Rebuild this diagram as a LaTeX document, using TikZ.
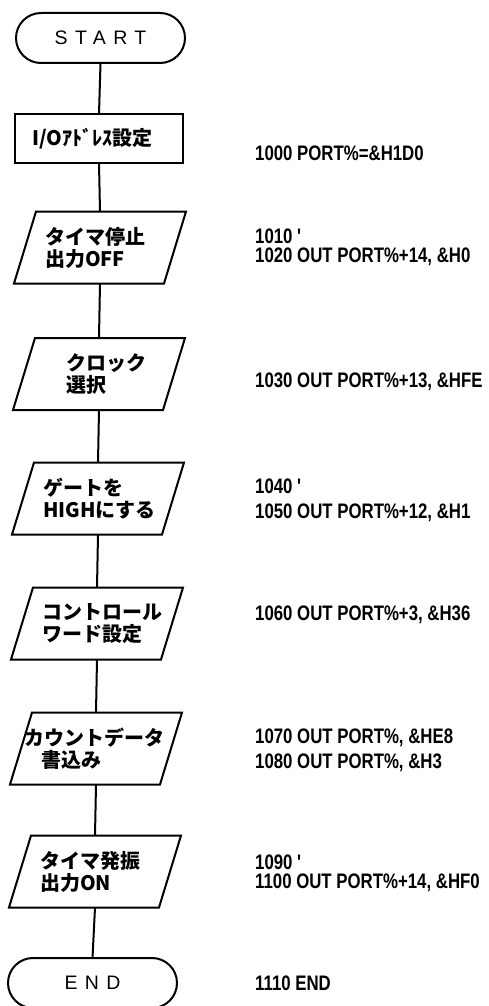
\documentclass[tikz,border=0pt]{standalone}
\usepackage{fontspec}
\setmainfont{Liberation Sans}
\newfontfamily\jpfont{Noto Sans CJK JP}
\newfontfamily\codefont[FakeStretch=0.8]{Liberation Sans}
\newfontfamily\termfont[LetterSpace=38]{Liberation Sans}
\usetikzlibrary{shapes.misc}
\tikzset{
  conn/.style={line width=2pt},
  terminal/.style={rounded rectangle, draw, line width=2pt, minimum width=169pt,
    minimum height=50pt, inner sep=0pt, outer sep=0pt,
    font=\termfont\fontsize{19.5}{19.5}\selectfont},
  procbox/.style={rectangle, draw, line width=2pt, minimum width=168pt,
    minimum height=49pt, outer sep=0pt, inner xsep=17pt, text width=134pt, align=left,
    font=\jpfont\bfseries\fontsize{20}{22}\selectfont},
  iobox/.style={rectangle, minimum width=150pt, minimum height=72pt, outer sep=0pt,
    inner xsep=20pt, text width=110pt, align=left,
    font=\jpfont\bfseries\fontsize{20}{22}\selectfont},
  codetext/.style={anchor=west, inner sep=0pt,
    font=\codefont\bfseries\fontsize{21}{21}\selectfont},
}
\begin{document}
\begin{tikzpicture}[x=1pt,y=-1pt]
\useasboundingbox (0,0) rectangle (488,1006);
\node[terminal] (start) at (100.5,38) {START};
\node[procbox] (io) at (99,138.5) {I/Oｱﾄﾞﾚｽ設定};
\node[iobox] (p1) at (100,247.5) {タイマ停止\\出力OFF};
\node[iobox] (p2) at (99,374) {\hspace*{22pt}クロック\\\hspace*{22pt}選択};
\node[iobox] (p3) at (98,498.5) {ゲートを\\HIGHにする};
\node[iobox] (p4) at (97,623.5) {コントロール\\ワード設定};
\node[iobox] (p5) at (96,748.5) {\hspace*{-17pt}カウントデータ\\書込み};
\node[iobox] (p6) at (95,871.5) {タイマ発振\\出力ON};
\node[terminal] (end) at (92.5,983) {END};
\foreach \n in {p1,p2,p3,p4,p5,p6}
  \draw[conn, line join=miter] ([xshift=11pt]\n.north west) -- ([xshift=11pt]\n.north east)
     -- ([xshift=-11pt]\n.south east) -- ([xshift=-11pt]\n.south west) -- cycle;
\draw[conn] (start.south) -- (io.north);
\draw[conn] (io.south) -- (p1.north);
\draw[conn] (p1.south) -- (p2.north);
\draw[conn] (p2.south) -- (p3.north);
\draw[conn] (p3.south) -- (p4.north);
\draw[conn] (p4.south) -- (p5.north);
\draw[conn] (p5.south) -- (p6.north);
\draw[conn] (p6.south) -- (end.north);
\node[codetext] (c1000) at (255,153) {1000 PORT\%=\&H1D0};
\node[codetext] (c1010) at (255,236) {1010 '};
\node[codetext] (c1020) at (255,257) {1020 OUT PORT\%+14, \&H0};
\node[codetext] (c1030) at (255,382) {1030 OUT PORT\%+13, \&HFE};
\node[codetext] (c1040) at (255,486) {1040 '};
\node[codetext] (c1050) at (255,513) {1050 OUT PORT\%+12, \&H1};
\node[codetext] (c1060) at (255,615) {1060 OUT PORT\%+3, \&H36};
\node[codetext] (c1070) at (255,738) {1070 OUT PORT\%, \&HE8};
\node[codetext] (c1080) at (255,763) {1080 OUT PORT\%, \&H3};
\node[codetext] (c1090) at (255,862) {1090 '};
\node[codetext] (c1100) at (255,883) {1100 OUT PORT\%+14, \&HF0};
\node[codetext] (c1110) at (255,983) {1110 END};
\end{tikzpicture}
\end{document}
